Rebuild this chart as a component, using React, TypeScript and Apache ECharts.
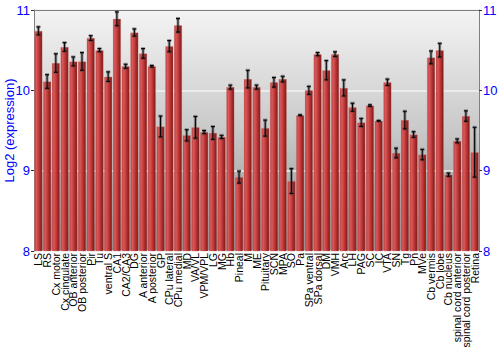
import React, { useEffect, useRef } from "react";
import * as echarts from "echarts";

const categories: string[] = [
  "LS", "RS", "Cx motor", "Cx cingulate", "OB anterior", "OB posterior", "Pir", "Tu",
  "ventral S", "CA1", "CA2/CA3", "DG", "A anterior", "A posterior", "GP", "CPu lateral",
  "CPu medial", "MD", "VA/VL", "VPM/VPL", "LG", "MG", "Hb", "Pineal", "M", "ME",
  "Pituitary", "SCN", "MPA", "SO", "Pa", "SPa ventral", "SPa dorsal", "DM", "VMH", "Arc",
  "LH", "PAG", "SC", "IC", "VTA", "SN", "Tg", "Pn", "MVe", "Cb vermis", "Cb lobe",
  "Cb nucleus", "spinal cord anterior", "spinal cord posterior", "Retina",
];

const values: number[] = [
  10.74, 10.11, 10.34, 10.54, 10.36, 10.36, 10.65, 10.5, 10.17, 10.89, 10.3, 10.72,
  10.46, 10.3, 9.55, 10.55, 10.81, 9.44, 9.54, 9.48, 9.47, 9.42, 10.04, 8.92, 10.14,
  10.04, 9.53, 10.1, 10.14, 8.87, 9.69, 10.0, 10.45, 10.25, 10.45, 10.03, 9.79, 9.6,
  9.81, 9.62, 10.1, 9.22, 9.63, 9.45, 9.2, 10.41, 10.5, 8.95, 9.37, 9.68, 9.23,
];

const errors: number[] = [
  0.05, 0.085, 0.115, 0.054, 0.056, 0.11, 0.03, 0.02, 0.06, 0.087, 0.025, 0.045,
  0.06, 0.01, 0.13, 0.07, 0.085, 0.07, 0.135, 0.02, 0.08, 0.02, 0.025, 0.075, 0.11,
  0.025, 0.1, 0.06, 0.035, 0.155, 0.005, 0.05, 0.02, 0.12, 0.03, 0.1, 0.05, 0.05,
  0.01, 0.005, 0.04, 0.06, 0.11, 0.035, 0.065, 0.08, 0.085, 0.02, 0.025, 0.065, 0.31,
];

const yTicks = { min: 8, max: 11, interval: 1 };

const FONT = "Liberation Sans, Arial, sans-serif";
const BLUE = "#0000ff";

export default function App() {
  const ref = useRef<HTMLDivElement>(null);

  useEffect(() => {
    if (!ref.current) return;
    const chart = echarts.init(ref.current, null, { renderer: "svg" });

    const errData = values.map((v, i) => [i, v - errors[i], v + errors[i]]);

    const yAxisBase = {
      type: "value" as const,
      min: yTicks.min,
      max: yTicks.max,
      interval: yTicks.interval,
      axisLine: { show: true, lineStyle: { color: "#808080", width: 1 } },
      axisTick: { show: true, length: 3, lineStyle: { color: "#333" } },
      axisLabel: { color: BLUE, fontSize: 13, fontFamily: FONT, margin: 4 },
    };

    const option: any = {
      animation: false,
      backgroundColor: "#ffffff",
      grid: {
        left: 34,
        right: 21,
        top: 10,
        bottom: 99,
        outerBoundsMode: "none",
        containLabel: false,
        show: true,
        borderWidth: 0,
        backgroundColor: new echarts.graphic.LinearGradient(0, 0, 0, 1, [
          { offset: 0, color: "#f4f4f4" },
          { offset: 0.5, color: "#c9c9c9" },
          { offset: 1, color: "#8e8e8e" },
        ]),
      },
      xAxis: [
        {
          type: "category",
          data: categories,
          axisLine: { show: false },
          axisTick: { show: false },
          axisLabel: {
            interval: 0,
            rotate: 90,
            fontSize: 10.5,
            fontFamily: FONT,
            color: "#000",
            margin: 2,
          },
        },
        {
          type: "category",
          data: categories,
          position: "top",
          axisLine: { show: true, lineStyle: { color: "#808080", width: 1 } },
          axisTick: { show: false },
          axisLabel: { show: false },
        },
      ],
      yAxis: [
        {
          ...yAxisBase,
          position: "left",
          name: "Log2 (expression)",
          nameLocation: "middle",
          nameRotate: 90,
          nameGap: 18,
          nameMoveOverlap: false,
          nameTextStyle: { color: BLUE, fontSize: 13, fontFamily: FONT },
          splitLine: { show: true, lineStyle: { color: "#f2f2f2", width: 1.5 } },
        },
        {
          ...yAxisBase,
          position: "right",
          splitLine: { show: false },
        },
      ],
      series: [
        {
          type: "bar",
          data: values,
          barCategoryGap: "8%",
          itemStyle: {
            color: new echarts.graphic.LinearGradient(0, 0, 1, 0, [
              { offset: 0, color: "#bd4040" },
              { offset: 0.25, color: "#d85858" },
              { offset: 0.6, color: "#bc3535" },
              { offset: 1, color: "#7c1616" },
            ]),
            borderColor: "rgba(220,140,140,0.5)",
            borderWidth: 0.5,
          },
        },
        {
          type: "custom",
          data: errData,
          z: 10,
          renderItem: (params: any, api: any) => {
            const x = api.value(0);
            const lo = api.coord([x, api.value(1)]);
            const hi = api.coord([x, api.value(2)]);
            const cx = lo[0];
            const hw = 2;
            const shadow = { stroke: "rgba(60,60,60,0.45)", lineWidth: 3 };
            const line = { stroke: "#000", lineWidth: 1 };
            const segs = [
              [[cx, lo[1]], [cx, hi[1]]],
              [[cx - hw, lo[1]], [cx + hw, lo[1]]],
              [[cx - hw, hi[1]], [cx + hw, hi[1]]],
            ];
            const children: any[] = [];
            segs.forEach((s) =>
              children.push({
                type: "line",
                shape: { x1: s[0][0], y1: s[0][1], x2: s[1][0], y2: s[1][1] },
                style: shadow,
              })
            );
            segs.forEach((s) =>
              children.push({
                type: "line",
                shape: { x1: s[0][0], y1: s[0][1], x2: s[1][0], y2: s[1][1] },
                style: line,
              })
            );
            return { type: "group", children };
          },
        },
      ],
    };

    chart.setOption(option);
    return () => chart.dispose();
  }, []);

  return (
    <div
      ref={ref}
      style={{ position: "fixed", left: 0, top: 0, width: 500, height: 350, background: "#fff" }}
    />
  );
}
